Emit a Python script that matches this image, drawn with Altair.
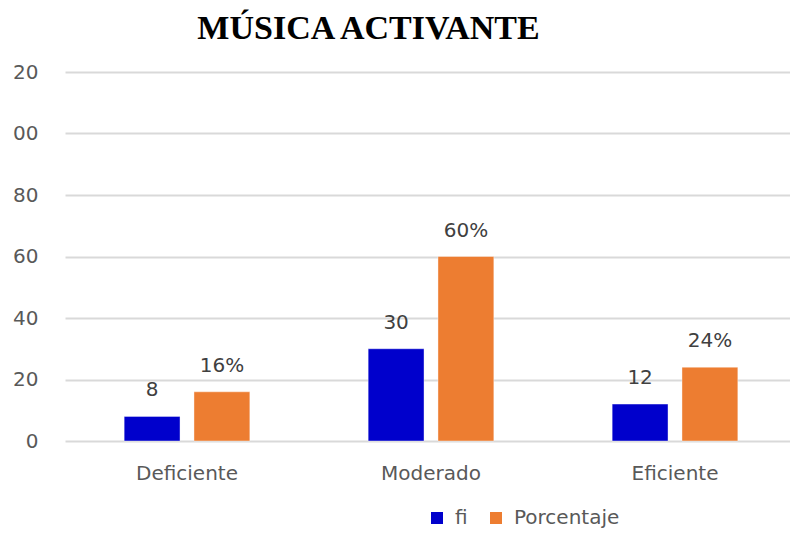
import altair as alt
import pandas as pd

categories = ["Deficiente", "Moderado", "Eficiente"]
series = ["fi", "Porcentaje"]
fi_values = [8, 30, 12]
pct_values = [16, 60, 24]
fi_labels = ["8", "30", "12"]
pct_labels = ["16%", "60%", "24%"]
colors = ["#0000CC", "#ED7D31"]

rows = []
for c, v, l in zip(categories, fi_values, fi_labels):
    rows.append({"cat": c, "serie": "fi", "value": v, "label": l})
for c, v, l in zip(categories, pct_values, pct_labels):
    rows.append({"cat": c, "serie": "Porcentaje", "value": v, "label": l})
df = pd.DataFrame(rows)

FONT = "DejaVu Sans"

x_enc = alt.X("cat:N", sort=categories,
              scale=alt.Scale(paddingInner=0.485, paddingOuter=0.2425, range=[0, 732]),
              axis=alt.Axis(title=None, labelAngle=0, domain=False, ticks=False,
                            labelFont=FONT, labelFontSize=20,
                            labelColor="#595959", labelPadding=22))
xo_enc = alt.XOffset("serie:N", sort=series,
                     scale=alt.Scale(paddingInner=0.2, paddingOuter=0))
y_enc = alt.Y("value:Q", scale=alt.Scale(domain=[0, 120]),
              axis=alt.Axis(title=None, values=[0, 20, 40, 60, 80, 100, 120],
                            labelExpr="datum.value >= 100 ? slice(datum.label, 1) : datum.label",
                            domain=False, ticks=False, grid=True,
                            gridColor="#D9D9D9", gridWidth=2,
                            labelFont=FONT, labelFontSize=20,
                            labelColor="#595959", labelPadding=27))

bars = alt.Chart(df).mark_bar(strokeWidth=0.8, strokeOpacity=0.5, stroke="#ffffff").encode(
    x=x_enc, xOffset=xo_enc, y=y_enc,
    color=alt.Color("serie:N", sort=series,
                    scale=alt.Scale(domain=series, range=colors),
                    legend=alt.Legend(title=None, orient="none", direction="horizontal",
                                      legendX=362, legendY=436, symbolType="square",
                                      symbolSize=144, symbolStrokeWidth=0,
                                      labelFont=FONT, labelFontSize=20,
                                      labelColor="#595959", columnPadding=18,
                                      labelOffset=8, padding=0))
)

text = alt.Chart(df).mark_text(font=FONT, fontSize=20, color="#404040",
                               baseline="middle", dy=-26).encode(
    x=alt.X("cat:N", sort=categories), xOffset=alt.XOffset("serie:N", sort=series),
    y="value:Q", text="label:N"
)

chart = alt.layer(bars, text).properties(
    width=725, height=369,
    autosize=alt.AutoSizeParams(type="none"),
    padding={"left": 57, "top": 64, "right": 0, "bottom": 87},
    title=alt.TitleParams("MÚSICA ACTIVANTE", font="Liberation Serif", fontSize=34,
                          fontWeight="bold", color="black", anchor="middle",
                          dx=-59, baseline="top", offset=16)
).configure_view(stroke=None)

chart.save("out.html", embed_options={"renderer": "svg", "actions": False})
